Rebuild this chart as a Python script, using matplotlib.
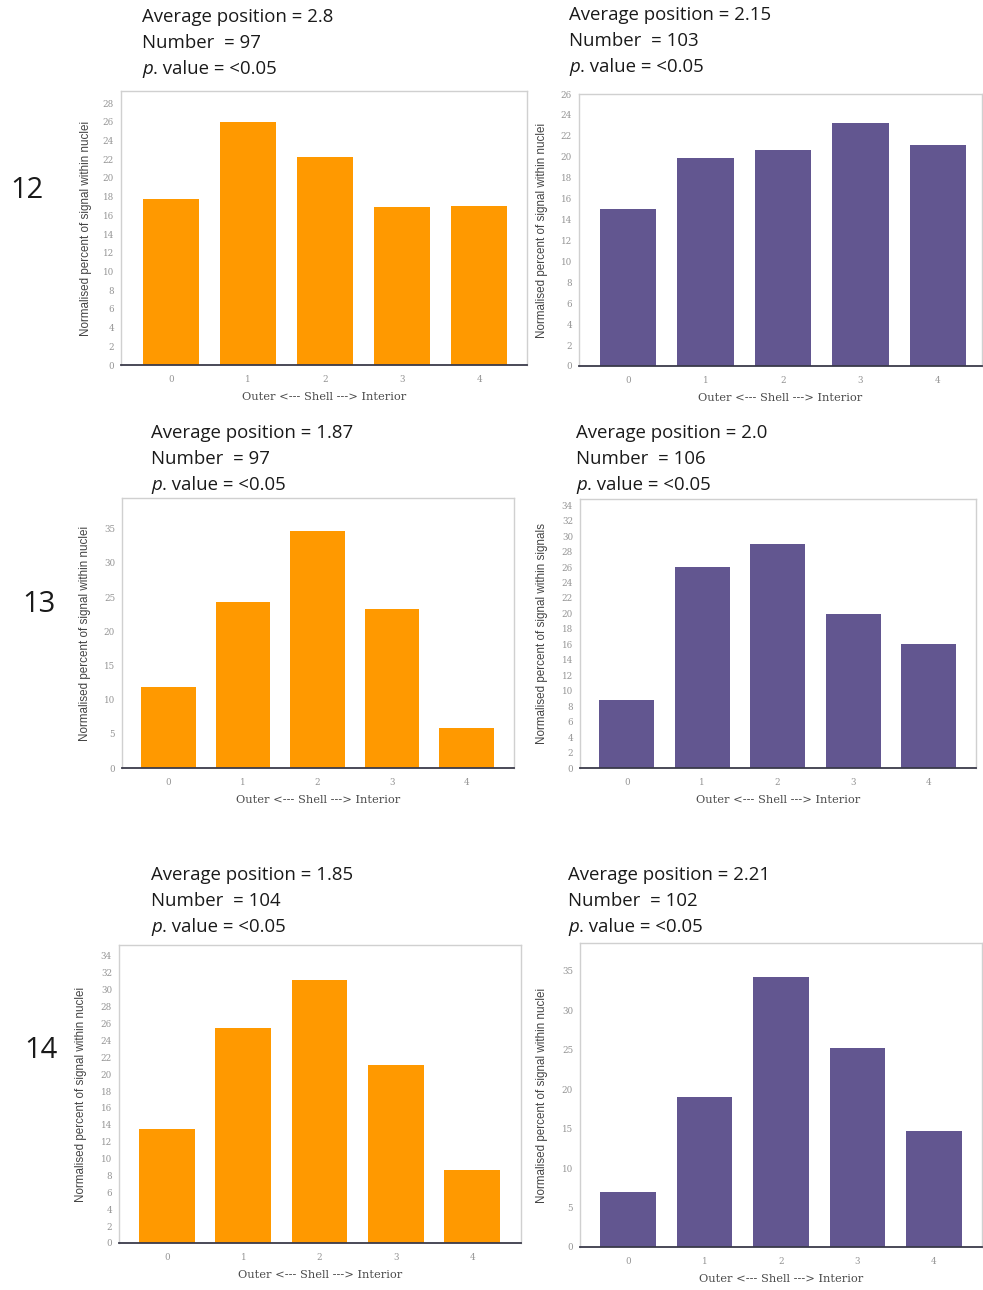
import matplotlib
matplotlib.use("Agg")
import matplotlib.pyplot as plt

# ---- data -------------------------------------------------------------
shells = [0, 1, 2, 3, 4]

chr12_orange = [17.8, 25.95, 22.2, 16.9, 17.05]
chr12_purple = [15.05, 19.85, 20.65, 23.25, 21.1]
chr13_orange = [11.9, 24.3, 34.7, 23.25, 5.8]
chr13_purple = [8.8, 26.0, 28.95, 19.9, 16.05]
chr14_orange = [13.5, 25.5, 31.1, 21.1, 8.6]
chr14_purple = [7.0, 19.0, 34.25, 25.2, 14.75]

avg_positions = ["2.8", "2.15", "1.87", "2.0", "1.85", "2.21"]
numbers = ["97", "103", "97", "106", "104", "102"]
p_values = ["<0.05"] * 6
row_labels = ["12", "13", "14"]

ylabel_nuclei = "Normalised percent of signal within nuclei"
ylabel_signals = "Normalised percent of signal within signals"
xlabel = "Outer <--- Shell ---> Interior"

# ---- layout -----------------------------------------------------------
W, H = 983, 1290
ORANGE = "#FF9900"
PURPLE = "#625690"

panels = [
    dict(vals=chr12_orange, color=ORANGE, box=(121, 91, 527, 365), ytop=29.3,
         xlim=(-0.65, 4.62), step=2, head=(142, 17), ylab=ylabel_nuclei, ylx=92),
    dict(vals=chr12_purple, color=PURPLE, box=(579, 94, 982, 366), ytop=26.0,
         xlim=(-0.63, 4.57), step=2, head=(569, 15), ylab=ylabel_nuclei, ylx=548),
    dict(vals=chr13_orange, color=ORANGE, box=(122, 498, 514, 768), ytop=39.5,
         xlim=(-0.625, 4.64), step=5, head=(151, 433), ylab=ylabel_nuclei, ylx=91),
    dict(vals=chr13_purple, color=PURPLE, box=(580, 499, 976, 768), ytop=34.8,
         xlim=(-0.62, 4.63), step=2, head=(576, 433), ylab=ylabel_signals, ylx=548),
    dict(vals=chr14_orange, color=ORANGE, box=(119, 945, 521, 1243), ytop=35.3,
         xlim=(-0.63, 4.64), step=2, head=(151, 875), ylab=ylabel_nuclei, ylx=87),
    dict(vals=chr14_purple, color=PURPLE, box=(580, 943, 982, 1247), ytop=38.5,
         xlim=(-0.63, 4.63), step=5, head=(568, 875), ylab=ylabel_nuclei, ylx=548),
]
row_label_pos = [(27, 190), (39, 605), (41, 1050)]

HEAD_FONT = "Open Sans"
HEAD_SIZE = 13.4
fig = plt.figure(figsize=(W / 100, H / 100), dpi=100)
fig.patch.set_facecolor("white")


def fx(x):
    return x / W


def fy(y):
    return 1 - y / H


for i, p in enumerate(panels):
    l, t, r, b = p["box"]
    ax = fig.add_axes([fx(l), fy(b), (r - l) / W, (b - t) / H])
    ax.bar(shells, p["vals"], width=0.73, color=p["color"], edgecolor="none")
    ax.set_xlim(*p["xlim"])
    ax.set_ylim(0, p["ytop"])
    ticks = list(range(0, int(p["ytop"]) + 1, p["step"]))
    ax.set_yticks(ticks)
    ax.set_xticks(shells)
    ax.tick_params(axis="y", length=0, labelsize=6.3, labelcolor="#949494", pad=5)
    ax.tick_params(axis="x", length=0, labelsize=6.3, labelcolor="#949494", pad=7)
    for lab in ax.get_xticklabels() + ax.get_yticklabels():
        lab.set_family("DejaVu Serif")
    for side in ("top", "left", "right"):
        ax.spines[side].set_color("#d0d0d0")
        ax.spines[side].set_linewidth(1.0)
    ax.spines["bottom"].set_color("#3a3a4a")
    ax.spines["bottom"].set_linewidth(1.3)

    ax.set_xlabel(xlabel, fontsize=8.2, color="#4a4a4a", family="DejaVu Serif",
                  labelpad=6)
    ax.set_ylabel(p["ylab"], fontsize=8.4, color="#444444", family="Liberation Sans")
    ax.yaxis.set_label_coords((p["ylx"] - l) / (r - l), 0.5)

    hx, hy = p["head"]
    fig.text(fx(hx), fy(hy), f"Average position = {avg_positions[i]}",
             fontsize=HEAD_SIZE, family=HEAD_FONT, color="#1a1a1a", va="center")
    fig.text(fx(hx), fy(hy + 26), f"Number  = {numbers[i]}",
             fontsize=HEAD_SIZE, family=HEAD_FONT, color="#1a1a1a", va="center")
    pt = fig.text(fx(hx), fy(hy + 52), "p", style="italic",
                  fontsize=HEAD_SIZE, family=HEAD_FONT, color="#1a1a1a", va="center")
    ax.annotate(f". value = {p_values[i]}", xy=(1, 0.5), xycoords=pt,
                fontsize=HEAD_SIZE, family=HEAD_FONT, color="#1a1a1a",
                va="center", ha="left", annotation_clip=False)

for lab, (x, y) in zip(row_labels, row_label_pos):
    fig.text(fx(x), fy(y), lab, fontsize=21, family=HEAD_FONT, color="#1a1a1a",
             ha="center", va="center")

fig.savefig("out.png", dpi=100, facecolor="white")
